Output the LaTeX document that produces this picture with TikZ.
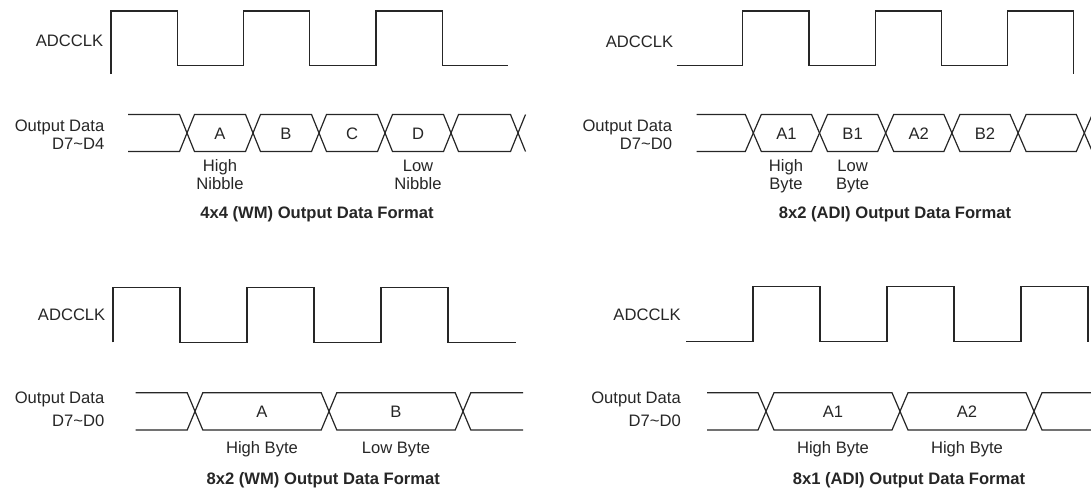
\documentclass[tikz,border=0pt]{standalone}
\usepackage{fontspec}
\setmainfont{Liberation Sans}
\definecolor{ink}{RGB}{38,38,38}
% #1 start x, #2 top y, #3 bottom y, #4 half width of a crossing, #5 crossings, #6/#7 tails
\newcommand\busdraw[7]{%
  \draw[wave] (#1,#2) \foreach \c [count=\i] in {#5}{ -- ({\c-#4},{#3+(#2-#3)*mod(\i,2)}) -- ({\c+#4},{#2+(#3-#2)*mod(\i,2)}) } #6;
  \draw[wave] (#1,#3) \foreach \c [count=\i] in {#5}{ -- ({\c-#4},{#2+(#3-#2)*mod(\i,2)}) -- ({\c+#4},{#3+(#2-#3)*mod(\i,2)}) } #7;
}
\begin{document}
\begin{tikzpicture}[x=1pt,y=-1pt,
  wave/.style={draw=ink,line width=1.2pt},
  lbl/.style={inner sep=0pt,outer sep=0pt,text=ink,font=\fontsize{16.6}{18}\selectfont},
  ttl/.style={lbl,font=\fontsize{16.6}{18}\selectfont\bfseries}]
\useasboundingbox (0,0) rectangle (1091,491);

% ---------- top left: 4x4 (WM)
\draw[wave] (111,74) -- (111,11) -- (177.4,11) -- (177.4,65.5) -- (243.6,65.5) -- (243.6,11) -- (309.8,11) -- (309.8,65.5) -- (376,65.5) -- (376,11) -- (442.2,11) -- (442.2,65.5) -- (508.4,65.5);
\node[lbl,anchor=base east] (tlclk) at (103.2,46) {ADCCLK};
\busdraw{128}{114.5}{151.5}{7.5}{187,253,319,385,451,518}{}{}
\node[lbl,anchor=base east] (tlout1) at (104.3,131) {Output Data};
\node[lbl,anchor=base east] (tlout2) at (104.3,149) {D7\textasciitilde D4};
\node[lbl,anchor=base] (tlA) at (220,139) {A};
\node[lbl,anchor=base] (tlB) at (286,139) {B};
\node[lbl,anchor=base] (tlC) at (352,139) {C};
\node[lbl,anchor=base] (tlD) at (418,139) {D};
\node[lbl,anchor=base] (tlh1) at (220,171) {High};
\node[lbl,anchor=base] (tlh2) at (220,189) {Nibble};
\node[lbl,anchor=base] (tll1) at (418,171) {Low};
\node[lbl,anchor=base] (tll2) at (418,189) {Nibble};
\node[ttl,anchor=base] (tlttl) at (317,218) {4x4 (WM) Output Data Format};

% ---------- top right: 8x2 (ADI)
\draw[wave] (676.6,65.5) -- (742.7,65.5) -- (742.7,11) -- (808.9,11) -- (808.9,65.5) -- (875.1,65.5) -- (875.1,11) -- (941.3,11) -- (941.3,65.5) -- (1007.5,65.5) -- (1007.5,11) -- (1073.7,11) -- (1073.7,74);
\node[lbl,anchor=base east] (trclk) at (673.1,47.5) {ADCCLK};
\busdraw{696.5}{114.5}{151.5}{8}{753.3,819.5,885.7,951.9,1018.1,1084.3}{}{}
\node[lbl,anchor=base east] (trout1) at (672,131) {Output Data};
\node[lbl,anchor=base east] (trout2) at (672,149) {D7\textasciitilde D0};
\node[lbl,anchor=base] (trA1) at (786.4,139) {A1};
\node[lbl,anchor=base] (trB1) at (852.6,139) {B1};
\node[lbl,anchor=base] (trA2) at (918.8,139) {A2};
\node[lbl,anchor=base] (trB2) at (985,139) {B2};
\node[lbl,anchor=base] (trh1) at (786,171) {High};
\node[lbl,anchor=base] (trh2) at (786,189) {Byte};
\node[lbl,anchor=base] (trl1) at (852.6,171) {Low};
\node[lbl,anchor=base] (trl2) at (852.6,189) {Byte};
\node[ttl,anchor=base] (trttl) at (895,218) {8x2 (ADI) Output Data Format};

% ---------- bottom left: 8x2 (WM)
\draw[wave] (113,342.3) -- (113,287.3) -- (180,287.3) -- (180,342.3) -- (247,342.3) -- (247,287.3) -- (314,287.3) -- (314,342.3) -- (381,342.3) -- (381,287.3) -- (448,287.3) -- (448,342.3) -- (515.5,342.3);
\node[lbl,anchor=base east] (blclk) at (105.3,320) {ADCCLK};
\busdraw{135.6}{392.7}{430}{7.8}{195,329,463}{-- (523,430)}{-- (523,392.7)}
\node[lbl,anchor=base east] (blout1) at (104.3,403) {Output Data};
\node[lbl,anchor=base east] (blout2) at (104.3,426) {D7\textasciitilde D0};
\node[lbl,anchor=base] (blA) at (262,417.5) {A};
\node[lbl,anchor=base] (blB) at (396,417.5) {B};
\node[lbl,anchor=base] (blh) at (262,453) {High Byte};
\node[lbl,anchor=base] (bll) at (396,453) {Low Byte};
\node[ttl,anchor=base] (blttl) at (323.3,484) {8x2 (WM) Output Data Format};

% ---------- bottom right: 8x1 (ADI)
\draw[wave] (686,341.7) -- (753,341.7) -- (753,286.7) -- (820,286.7) -- (820,341.7) -- (887,341.7) -- (887,286.7) -- (954,286.7) -- (954,341.7) -- (1021,341.7) -- (1021,286.7) -- (1088,286.7) -- (1088,341.7);
\node[lbl,anchor=base east] (brclk) at (680.8,320) {ADCCLK};
\busdraw{707}{392.7}{430}{8}{766,900,1034}{-- (1095,430)}{-- (1095,392.7)}
\node[lbl,anchor=base east] (brout1) at (680.8,403) {Output Data};
\node[lbl,anchor=base east] (brout2) at (680.8,426) {D7\textasciitilde D0};
\node[lbl,anchor=base] (brA1) at (833,417.5) {A1};
\node[lbl,anchor=base] (brA2) at (967,417.5) {A2};
\node[lbl,anchor=base] (brh1) at (833,453) {High Byte};
\node[lbl,anchor=base] (brh2) at (967,453) {High Byte};
\node[ttl,anchor=base] (brttl) at (909,484) {8x1 (ADI) Output Data Format};
\end{tikzpicture}
\end{document}
